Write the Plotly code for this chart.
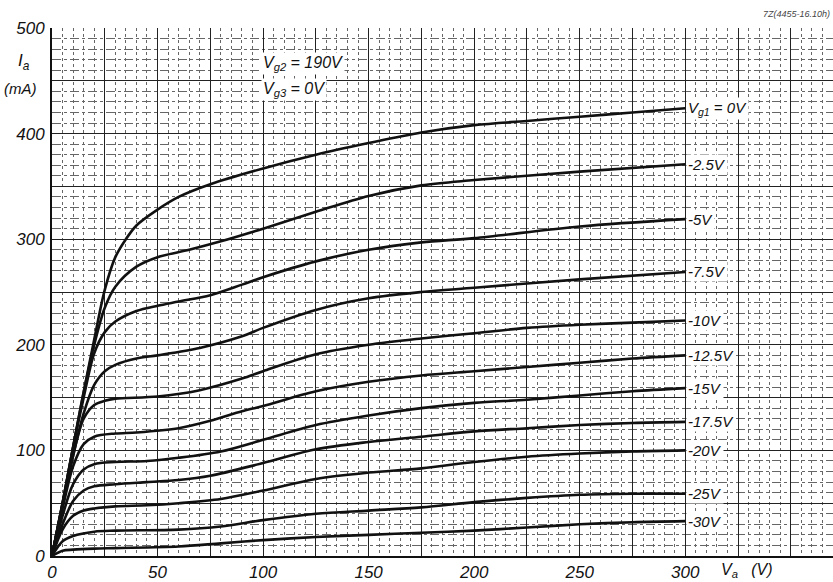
import plotly.graph_objects as go

# Anode voltage (V) sample points and anode current (mA) per grid-1 voltage
va_0 = [0, 5, 10, 15, 20, 25, 30, 35, 40, 50, 60, 75, 100, 125, 150, 175, 200, 225, 250, 275, 300]
ia_0 = [0, 50, 103, 155, 205, 252, 283, 300, 313, 328, 340, 352, 367, 380, 391, 401, 408, 412, 416, 420, 424]

va_m2_5 = [0, 5, 10, 15, 20, 25, 30, 40, 50, 65, 80, 100, 125, 150, 175, 200, 250, 300]
ia_m2_5 = [0, 50, 103, 155, 200, 235, 255, 274, 283, 290, 298, 310, 326, 341, 351, 356, 364, 371]

va_m5 = [0, 5, 10, 15, 20, 25, 30, 40, 50, 60, 75, 90, 100, 125, 150, 175, 200, 250, 300]
ia_m5 = [0, 50, 103, 150, 192, 212, 222, 232, 237, 241, 247, 257, 264, 279, 290, 297, 301, 312, 319]

va_m7_5 = [0, 5, 10, 15, 20, 25, 30, 40, 50, 70, 90, 100, 125, 150, 175, 200, 250, 300]
ia_m7_5 = [0, 48, 95, 135, 162, 175, 181, 187, 190, 197, 208, 216, 233, 244, 250, 254, 262, 269]

va_m10 = [0, 5, 10, 15, 20, 25, 30, 50, 70, 90, 100, 125, 150, 175, 200, 225, 250, 275, 300]
ia_m10 = [0, 48, 95, 130, 143, 147, 149, 151, 157, 168, 175, 191, 200, 206, 211, 216, 219, 221, 223]

va_m12_5 = [0, 5, 10, 15, 20, 30, 40, 60, 75, 90, 100, 125, 150, 175, 200, 225, 250, 275, 300]
ia_m12_5 = [0, 45, 85, 106, 113, 116, 117, 121, 128, 137, 142, 156, 165, 171, 175, 179, 183, 187, 190]

va_m15 = [0, 5, 10, 15, 20, 30, 45, 60, 80, 100, 125, 150, 175, 200, 225, 250, 275, 300]
ia_m15 = [0, 38, 68, 82, 87, 89, 90, 93, 99, 110, 124, 133, 140, 145, 148, 152, 156, 159]

va_m17_5 = [0, 5, 10, 15, 20, 30, 45, 60, 75, 100, 125, 150, 175, 200, 225, 250, 275, 300]
ia_m17_5 = [0, 30, 52, 62, 66, 68, 70, 72, 76, 88, 101, 108, 113, 118, 121, 124, 126, 127]

va_m20 = [0, 5, 10, 15, 20, 30, 45, 60, 80, 100, 125, 150, 175, 200, 225, 250, 275, 300]
ia_m20 = [0, 25, 38, 43, 45, 47, 48, 50, 54, 62, 73, 79, 83, 89, 94, 97, 99, 100]

va_m25 = [0, 5, 10, 20, 30, 60, 80, 100, 125, 150, 175, 200, 225, 250, 275, 300]
ia_m25 = [0, 14, 19, 23, 24, 25, 28, 34, 40, 43, 46, 51, 55, 58, 59, 59]

va_m30 = [0, 5, 10, 20, 30, 60, 80, 100, 125, 150, 175, 200, 225, 250, 275, 300]
ia_m30 = [0, 5, 6, 7, 7.5, 9, 12, 15, 18, 20, 22, 24, 27, 30, 32, 33]

curve_labels = ["V<sub>g1</sub> = 0V", "-2.5V", "-5V", "-7.5V", "-10V", "-12.5V",
                "-15V", "-17.5V", "-20V", "-25V", "-30V"]
curves = [(va_0, ia_0), (va_m2_5, ia_m2_5), (va_m5, ia_m5), (va_m7_5, ia_m7_5),
          (va_m10, ia_m10), (va_m12_5, ia_m12_5), (va_m15, ia_m15),
          (va_m17_5, ia_m17_5), (va_m20, ia_m20), (va_m25, ia_m25), (va_m30, ia_m30)]

x_tickvals = [0, 25, 50, 75, 100, 125, 150, 175, 200, 225, 250, 275, 300, 325, 350]
x_ticktext = ["0", "", "50", "", "100", "", "150", "", "200", "", "250", "", "300", "", ""]
y_tickvals = [0, 50, 100, 150, 200, 250, 300, 350, 400, 450, 500]
y_ticktext = ["0", "", "100", "", "200", "", "300", "", "400", "", "500"]

FONT = "Liberation Sans"
ink = "#111111"

fig = go.Figure()
for (xs, ys), name in zip(curves, curve_labels):
    fig.add_trace(go.Scatter(x=xs, y=ys, mode="lines", name=name,
                             line=dict(color=ink, width=2.6, shape="spline", smoothing=0.9),
                             hoverinfo="skip", showlegend=False))

annotations = []
for (xs, ys), name in zip(curves, curve_labels):
    annotations.append(dict(x=xs[-1], y=ys[-1], xref="x", yref="y", text=name,
                            showarrow=False, xanchor="left", yanchor="middle", xshift=1,
                            font=dict(family=FONT, size=15, color=ink, style="italic"),
                            bgcolor="white"))

annotations += [
    dict(x=-0.036, y=0.935, xref="paper", yref="paper", text="I<sub>a</sub>", showarrow=False,
         xanchor="center", yanchor="middle", font=dict(family=FONT, size=17, color=ink, style="italic")),
    dict(x=-0.04, y=0.885, xref="paper", yref="paper", text="(mA)", showarrow=False,
         xanchor="center", yanchor="middle", font=dict(family=FONT, size=15, color=ink, style="italic")),
    dict(x=99, y=466, xref="x", yref="y", text="V<sub>g2</sub> = 190V", showarrow=False,
         xanchor="left", yanchor="middle", bgcolor="white",
         font=dict(family=FONT, size=16, color=ink, style="italic")),
    dict(x=99, y=442, xref="x", yref="y", text="V<sub>g3</sub> = 0V", showarrow=False,
         xanchor="left", yanchor="middle", bgcolor="white",
         font=dict(family=FONT, size=16, color=ink, style="italic")),
    dict(x=316, y=-0.028, xref="x", yref="paper", text="V<sub>a</sub>   (V)", showarrow=False,
         xanchor="left", yanchor="middle",
         font=dict(family=FONT, size=16, color=ink, style="italic")),
    dict(x=0.999, y=1.027, xref="paper", yref="paper", text="7Z(4455-16.10h)", showarrow=False,
         xanchor="right", yanchor="middle",
         font=dict(family=FONT, size=9, color="#444444", style="italic")),
]

tickfont = dict(family=FONT, size=17, color=ink, style="italic")

fig.update_layout(
    width=833, height=582,
    margin=dict(l=52, r=0, t=28, b=24),
    paper_bgcolor="white", plot_bgcolor="white",
    annotations=annotations,
    xaxis=dict(range=[0, 370], tickmode="array", tickvals=x_tickvals, ticktext=x_ticktext,
               showgrid=True, gridcolor="#222222", gridwidth=1,
               minor=dict(dtick=5, tick0=0, showgrid=True, gridcolor="#666666",
                          gridwidth=1, griddash="dot"),
               showline=True, linecolor=ink, linewidth=2, ticks="",
               zeroline=False, tickfont=tickfont, ticklabelstandoff=0),
    yaxis=dict(range=[0, 500], tickmode="array", tickvals=y_tickvals, ticktext=y_ticktext,
               showgrid=True, gridcolor="#222222", gridwidth=1,
               minor=dict(dtick=10, tick0=0, showgrid=True, gridcolor="#666666",
                          gridwidth=1, griddash="dashdot"),
               showline=True, linecolor=ink, linewidth=2, ticks="",
               zeroline=False, tickfont=tickfont, ticklabelstandoff=2),
)

fig.write_html("out.html")
